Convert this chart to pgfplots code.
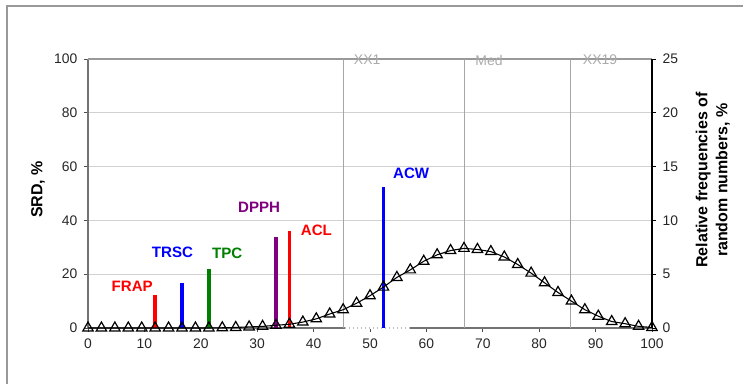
\documentclass[border=0pt]{standalone}
\usepackage{pgfplots}
\pgfplotsset{compat=1.18}
\usepackage{fontspec}
\setmainfont{Liberation Sans}
\definecolor{cgreen}{RGB}{0,128,0}
\definecolor{cpurple}{RGB}{128,0,128}
\definecolor{lbl}{RGB}{170,170,170}
\pgfplotstableread{
x y
0 0
2.381 0
4.762 0
7.143 0
9.524 0
11.905 0
14.286 0
16.667 0
19.048 0
21.429 0
23.810 0.02
26.190 0.05
28.571 0.1
30.952 0.15
33.333 0.25
35.714 0.35
38.095 0.55
40.476 0.85
42.857 1.3
45.238 1.7
47.619 2.3
50.000 3.0
52.381 3.8
54.762 4.7
57.143 5.4
59.524 6.2
61.905 6.8
64.286 7.2
66.667 7.4
69.048 7.3
71.429 7.1
73.810 6.6
76.190 5.9
78.571 5.1
80.952 4.2
83.333 3.3
85.714 2.5
88.095 1.7
90.476 1.1
92.857 0.6
95.238 0.4
97.619 0.15
100 0.05
}\freq
\begin{document}
\begin{tikzpicture}
\path[use as bounding box] (0,0) rectangle (557.25pt,288pt);
\draw[black!40, line width=1pt] (5.25pt,0) -- (5.25pt,283.5pt) -- (557.25pt,283.5pt);
\begin{axis}[
  at={(66pt,42pt)}, anchor=origin,
  scale only axis, width=423pt, height=201.75pt,
  xmin=0, xmax=100, ymin=0, ymax=100,
  axis x line*=bottom, axis y line*=left,
  axis line style={black!55, line width=0.8pt},
  xtick={0,10,...,100}, ytick={0,20,...,100},
  tick align=outside, major tick length=3pt,
  tick style={black!70, line width=0.7pt},
  ymajorgrids, grid style={black!18, line width=0.75pt},
  /pgf/number format/assume math mode=true,
  ticklabel style={font=\fontsize{10.4}{12}\selectfont, text=black!85},
  xticklabel style={yshift=-1.5pt},
  yticklabel style={xshift=-1.5pt},
  ylabel={\bfseries SRD, \%},
  ylabel style={font=\fontsize{12}{14}\selectfont, at={(axis description cs:-0.0887,0.515)}, anchor=center},
  clip=false,
]
\draw[black!40, line width=0.8pt] (axis cs:0,100) -- (axis cs:100,100);
\draw[black!35, line width=1pt] (axis cs:45.3,0) -- (axis cs:45.3,100);
\draw[black!35, line width=1pt] (axis cs:66.7,0) -- (axis cs:66.7,100);
\draw[black!35, line width=1pt] (axis cs:85.6,0) -- (axis cs:85.6,100);
\draw[white, line width=1.2pt] (axis cs:45.5,0) -- (axis cs:57.1,0);
\draw[black!25, dotted, line width=1pt] (axis cs:45.5,0) -- (axis cs:57.1,0);
\node[text=lbl, font=\fontsize{10.5}{12}\selectfont] at (axis cs:49.5,99.6) {XX1};
\node[text=lbl, font=\fontsize{10.5}{12}\selectfont] at (axis cs:71.1,99.6) {Med};
\node[text=lbl, font=\fontsize{10.5}{12}\selectfont] at (axis cs:90.8,99.6) {XX19};
\addplot[ycomb, red, line width=2.8pt] coordinates {(11.905,12.1)};
\addplot[ycomb, blue, line width=2.8pt] coordinates {(16.667,16.8)};
\addplot[ycomb, cgreen, line width=2.8pt] coordinates {(21.429,21.8)};
\addplot[ycomb, cpurple, line width=2.8pt] coordinates {(33.333,33.7)};
\addplot[ycomb, red, line width=2.8pt] coordinates {(35.714,35.9)};
\addplot[ycomb, blue, line width=2.8pt] coordinates {(52.381,52.5)};
\begin{scope}[font=\bfseries\fontsize{11.3}{13}\selectfont]
\node[text=red] at (axis cs:7.84,15.4) {FRAP};
\node[text=blue] at (axis cs:14.98,28.0) {TRSC};
\node[text=cgreen] at (axis cs:24.7,27.6) {TPC};
\node[text=cpurple] at (axis cs:30.35,44.7) {DPPH};
\node[text=red] at (axis cs:40.5,36.2) {ACL};
\node[text=blue] at (axis cs:57.3,57.5) {ACW};
\end{scope}
\end{axis}
\begin{axis}[
  at={(66pt,42pt)}, anchor=origin,
  scale only axis, width=423pt, height=201.75pt,
  xmin=0, xmax=100, ymin=0, ymax=25,
  axis x line=none, axis y line*=right,
  axis line style={black, line width=0.8pt},
  ytick={0,5,...,25},
  tick align=outside, major tick length=3pt,
  tick style={black, line width=0.7pt},
  /pgf/number format/assume math mode=true,
  ticklabel style={font=\fontsize{10.4}{12}\selectfont, text=black!85},
  yticklabel style={xshift=1.5pt},
  ylabel={Relative frequencies of\\random numbers, \%},
  ylabel style={font=\bfseries\fontsize{12}{15}\selectfont, align=center, at={(axis description cs:1.108,0.55)}, anchor=center},
  clip=false,
]
\addplot[black, line width=0.8pt, mark=triangle, mark size=4.5pt, mark options={solid, line width=0.9pt, fill=none}] table {\freq};
\end{axis}
\end{tikzpicture}
\end{document}
